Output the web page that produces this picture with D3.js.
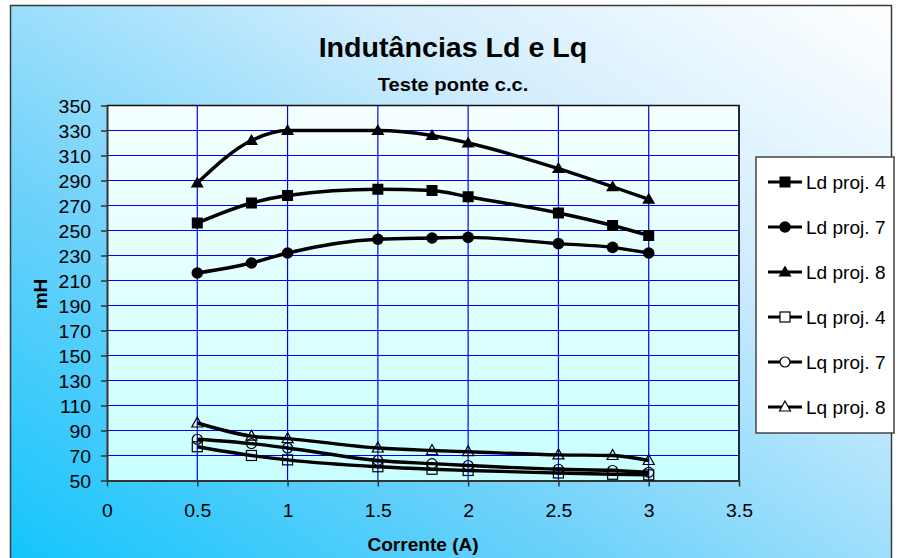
<!DOCTYPE html>
<html>
<head>
<meta charset="utf-8">
<script src="https://cdn.jsdelivr.net/npm/d3@7"></script>
<style>
  html, body { margin: 0; padding: 0; background: #ffffff; }
  svg { display: block; font-family: Arial, "Liberation Sans", sans-serif; }
</style>
</head>
<body>
<svg id="chart" width="898" height="558"></svg>
<script>
// Current (A) at which the inductances were measured
const corrente = [0.5, 0.8, 1.0, 1.5, 1.8, 2.0, 2.5, 2.8, 3.0];

// Inductance values in mH
const ldProj4 = [256, 272, 278, 283, 282, 277, 264, 254, 246];
const ldProj7 = [216, 224, 232, 243, 244, 244.5, 239.5, 236.5, 232];
const ldProj8 = [288, 322, 330, 330, 326, 320, 299.5, 285, 275];
const lqProj4 = [77, 70, 66.5, 61, 59, 58, 56, 55, 54.5];
const lqProj7 = [83, 79.5, 76, 66, 63.5, 62, 59, 58, 56.5];
const lqProj8 = [96, 85.5, 83.5, 76, 74, 73, 70.5, 70, 66];

const seriesNames = ["Ld proj. 4", "Ld proj. 7", "Ld proj. 8", "Lq proj. 4", "Lq proj. 7", "Lq proj. 8"];
const seriesValues = [ldProj4, ldProj7, ldProj8, lqProj4, lqProj7, lqProj8];
const seriesSymbols = ["square", "circle", "triangle", "square", "circle", "triangle"];
const seriesFilled = [true, true, true, false, false, false];

const xTickValues = [0, 0.5, 1, 1.5, 2, 2.5, 3, 3.5];
const yTickValues = d3.range(50, 351, 20);

const titleText = "Indutâncias Ld e Lq";
const subtitleText = "Teste ponte c.c.";
const xTitle = "Corrente (A)";
const yTitle = "mH";

const svg = d3.select("#chart");
const plot = { left: 107, top: 105.5, right: 739, bottom: 480.5 };
const stretch = 1.06; // text is drawn slightly wide

const x = d3.scaleLinear().domain([0, 3.5]).range([plot.left, plot.right]);
const y = d3.scaleLinear().domain([50, 350]).range([plot.bottom, plot.top]);

const defs = svg.append("defs");
const bg = defs.append("linearGradient").attr("id", "bgGrad")
  .attr("x1", "0").attr("y1", "1").attr("x2", "1").attr("y2", "0");
bg.append("stop").attr("offset", "0").attr("stop-color", "#10c4fc");
bg.append("stop").attr("offset", "0.35").attr("stop-color", "#6fd2fa");
bg.append("stop").attr("offset", "0.7").attr("stop-color", "#d2edfd");
bg.append("stop").attr("offset", "1").attr("stop-color", "#ffffff");

const pg = defs.append("linearGradient").attr("id", "plotGrad")
  .attr("x1", "0").attr("y1", "0").attr("x2", "0").attr("y2", "1");
pg.append("stop").attr("offset", "0").attr("stop-color", "#f6ffff");
pg.append("stop").attr("offset", "1").attr("stop-color", "#caffff");

// chart frame
svg.append("rect").attr("x", 10.5).attr("y", 5.5).attr("width", 881).attr("height", 570)
  .attr("fill", "url(#bgGrad)").attr("stroke", "#3a3a3a").attr("stroke-width", 1.5);

function stretchedText(sel, px, py, size, weight, anchor) {
  return sel.append("text")
    .attr("transform", `translate(${px},${py}) scale(${stretch},1)`)
    .attr("font-size", size).attr("font-weight", weight)
    .attr("text-anchor", anchor).attr("fill", "#000");
}

// titles
stretchedText(svg, 453, 57, 27, "bold", "middle").text(titleText);
stretchedText(svg, 453, 91, 19, "bold", "middle").text(subtitleText);

// plot area
svg.append("rect").attr("x", plot.left).attr("y", plot.top)
  .attr("width", plot.right - plot.left).attr("height", plot.bottom - plot.top)
  .attr("fill", "url(#plotGrad)");

// gridlines
svg.append("g").selectAll("line").data(yTickValues.filter(v => v > 50)).join("line")
  .attr("x1", plot.left).attr("x2", plot.right)
  .attr("y1", d => y(d)).attr("y2", d => y(d))
  .attr("stroke", "#0000ff").attr("stroke-width", 1.2);
svg.append("g").selectAll("line").data(xTickValues.filter(v => v > 0)).join("line")
  .attr("y1", plot.top).attr("y2", plot.bottom)
  .attr("x1", d => x(d)).attr("x2", d => x(d))
  .attr("stroke", "#0000ff").attr("stroke-width", 1.2);

// plot frame top/right
svg.append("path")
  .attr("d", `M${plot.left},${plot.top}H${plot.right}V${plot.bottom}`)
  .attr("fill", "none").attr("stroke", "#111").attr("stroke-width", 1.5);

// axes
const yAxis = svg.append("g").attr("transform", `translate(${plot.left},0)`)
  .call(d3.axisLeft(y).tickValues(yTickValues).tickSize(6).tickSizeOuter(0).tickFormat(d3.format("d")));
const xAxis = svg.append("g").attr("transform", `translate(0,${plot.bottom})`)
  .call(d3.axisBottom(x).tickValues(xTickValues).tickSize(6).tickSizeOuter(0).tickFormat(d => d3.format("")(d)));
[yAxis, xAxis].forEach(a => {
  a.select(".domain").attr("stroke", "#333").attr("stroke-width", 2);
  a.selectAll(".tick line").attr("stroke", "#333").attr("stroke-width", 1.5);
  a.selectAll(".tick text").attr("font-size", 18).attr("fill", "#000")
    .attr("font-family", "Arial, 'Liberation Sans', sans-serif");
});
yAxis.selectAll(".tick text").attr("x", null).attr("dy", null)
  .attr("transform", `translate(-16,6.5) scale(1.08,1)`).attr("text-anchor", "end");
xAxis.selectAll(".tick text").attr("y", null).attr("dy", null)
  .attr("transform", `translate(0,36) scale(1.08,1)`);

// axis titles
stretchedText(svg, 423, 551, 18, "bold", "middle").text(xTitle);
svg.append("text")
  .attr("transform", `translate(47,294) rotate(-90) scale(${stretch},1)`)
  .attr("font-size", 18).attr("font-weight", "bold").attr("text-anchor", "middle")
  .text(yTitle);

// markers
function drawMarker(g, sym, filled, cx, cy) {
  const fill = filled ? "#000" : "none";
  const sw = filled ? 0 : 1.2;
  if (sym === "square") {
    const s = filled ? 11 : 10;
    g.append("rect").attr("x", cx - s / 2).attr("y", cy - s / 2).attr("width", s).attr("height", s)
      .attr("fill", fill).attr("stroke", "#000").attr("stroke-width", sw);
  } else if (sym === "circle") {
    g.append("circle").attr("cx", cx).attr("cy", cy).attr("r", filled ? 5.8 : 5)
      .attr("fill", fill).attr("stroke", "#000").attr("stroke-width", sw);
  } else {
    const w = filled ? 13 : 11, h = filled ? 11 : 10;
    g.append("path")
      .attr("d", `M${cx},${cy - h * 0.6}L${cx + w / 2},${cy + h * 0.4}L${cx - w / 2},${cy + h * 0.4}Z`)
      .attr("fill", fill).attr("stroke", "#000").attr("stroke-width", sw);
  }
}

const line = d3.line().x(d => x(d[0])).y(d => y(d[1])).curve(d3.curveMonotoneX);

const seriesG = svg.append("g");
seriesValues.forEach((vals, i) => {
  const pts = corrente.map((c, j) => [c, vals[j]]);
  const g = seriesG.append("g");
  g.append("path").datum(pts).attr("d", line)
    .attr("fill", "none").attr("stroke", "#000").attr("stroke-width", 3.4)
    .attr("stroke-linejoin", "round");
  pts.forEach(p => drawMarker(g, seriesSymbols[i], seriesFilled[i], x(p[0]), y(p[1])));
});

// legend
const legend = svg.append("g");
legend.append("rect").attr("x", 756).attr("y", 157).attr("width", 138).attr("height", 276)
  .attr("fill", "#fff").attr("stroke", "#444").attr("stroke-width", 1.5);
seriesNames.forEach((name, i) => {
  const cy = 182 + i * 45;
  const g = legend.append("g");
  g.append("line").attr("x1", 768).attr("x2", 802).attr("y1", cy).attr("y2", cy)
    .attr("stroke", "#000").attr("stroke-width", 3);
  if (!seriesFilled[i]) {
    // hollow symbols sit on a white patch in the key
    if (seriesSymbols[i] === "square") g.append("rect").attr("x", 780).attr("y", cy - 5).attr("width", 10).attr("height", 10).attr("fill", "#fff");
    else if (seriesSymbols[i] === "circle") g.append("circle").attr("cx", 785).attr("cy", cy).attr("r", 5).attr("fill", "#fff");
    else g.append("path").attr("d", `M785,${cy - 6}L790.5,${cy + 4}L779.5,${cy + 4}Z`).attr("fill", "#fff");
  }
  drawMarker(g, seriesSymbols[i], seriesFilled[i], 785, cy);
  stretchedText(g, 806, cy + 6.5, 18, "normal", "start").text(name);
});
</script>
</body>
</html>
